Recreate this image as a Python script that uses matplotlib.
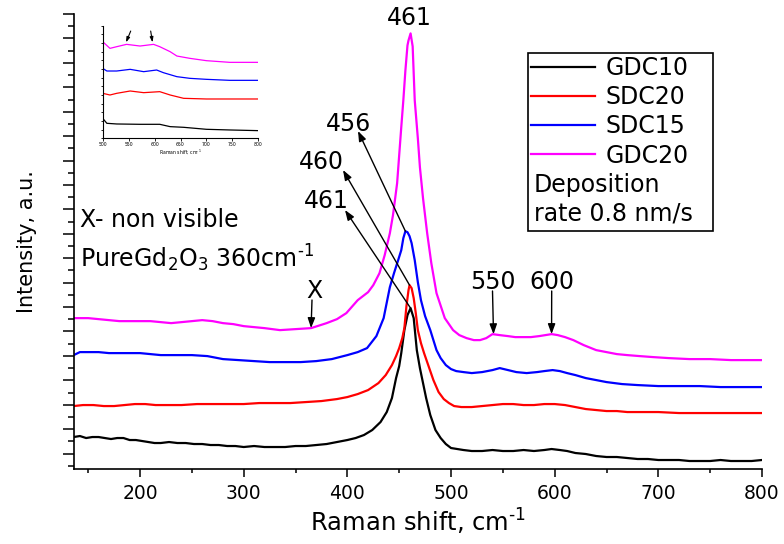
import matplotlib
matplotlib.use("Agg")
import matplotlib.pyplot as plt
from matplotlib.ticker import MultipleLocator
from matplotlib.patches import Rectangle

plt.rcParams["font.family"] = ["DejaVu Sans"]
plt.rcParams["mathtext.fontset"] = "dejavusans"
plt.rcParams["mathtext.default"] = "regular"

# ---- Raman spectra (arbitrary intensity units, curves vertically offset) ----
wn_gdc10 = [136, 142, 148, 154, 160, 166, 172, 178, 184, 190,
            196, 202, 208, 214, 220, 228, 236, 244, 252, 260,
            268, 276, 284, 292, 300, 310, 320, 330, 340, 350,
            360, 370, 380, 390, 400, 408, 416, 424, 432, 438,
            443, 447, 450, 452, 455, 458, 461, 464, 467, 470,
            473, 476, 480, 485, 490, 495, 500, 506, 512, 520,
            530, 540, 550, 560, 570, 580, 590, 597, 605, 612,
            620, 630, 640, 650, 660, 670, 680, 690, 700, 710,
            720, 730, 740, 750, 760, 770, 780, 790, 800]
i_gdc10 = [41, 42, 40, 41, 41, 40, 39, 40, 40, 38,
           38, 37, 36, 35, 35, 36, 35, 35, 34, 34,
           33, 33, 32, 32, 31, 32, 31, 31, 31, 32,
           32, 33, 34, 36, 38, 40, 43, 48, 56, 66,
           80, 100, 112, 125, 148, 163, 170, 160, 128, 110,
           95, 80, 63, 48, 40, 34, 30, 29, 28, 27,
           27, 28, 27, 27, 28, 27, 28, 29, 28, 27,
           25, 24, 22, 21, 21, 20, 19, 19, 18, 18,
           18, 17, 17, 17, 18, 17, 17, 17, 18]

wn_sdc20 = [136, 145, 155, 165, 175, 185, 195, 205, 215, 225,
            240, 255, 270, 285, 300, 315, 330, 345, 360, 375,
            390, 400, 410, 420, 430, 437, 443, 447, 450, 453,
            455, 457, 459, 460, 462, 464, 466, 468, 471, 474,
            478, 483, 488, 493, 498, 503, 510, 520, 530, 540,
            550, 560, 570, 580, 590, 600, 610, 620, 630, 640,
            650, 660, 670, 680, 690, 700, 720, 740, 760, 780,
            800]
i_sdc20 = [72, 73, 73, 72, 72, 73, 74, 74, 73, 73,
           73, 74, 74, 74, 74, 75, 75, 75, 76, 77,
           79, 81, 84, 88, 95, 103, 113, 122, 130, 140,
           150, 172, 188, 193, 190, 180, 165, 148, 135, 125,
           113, 98, 86, 79, 75, 72, 71, 71, 72, 73,
           74, 74, 73, 73, 74, 74, 73, 71, 69, 68,
           67, 67, 66, 66, 66, 66, 65, 65, 65, 65,
           65]

wn_sdc15 = [136, 142, 150, 160, 170, 180, 190, 200, 210, 220,
            235, 250, 265, 280, 295, 310, 325, 340, 355, 370,
            385, 400, 410, 419, 428, 435, 441, 445, 449, 452,
            454, 456, 458, 460, 462, 465, 468, 471, 475, 480,
            486, 490, 495, 500, 505, 512, 520, 530, 540, 547,
            555, 563, 573, 583, 590, 598, 605, 612, 620, 630,
            640, 650, 665, 680, 700, 720, 740, 760, 780, 800]
i_sdc15 = [123, 126, 126, 126, 125, 125, 125, 125, 124, 123,
           123, 123, 122, 119, 118, 117, 116, 116, 116, 117,
           119, 123, 126, 130, 142, 160, 191, 205, 218, 228,
           240, 247, 246, 242, 235, 218, 196, 178, 162, 148,
           128, 120, 113, 109, 107, 106, 105, 106, 108, 110,
           108, 106, 105, 106, 107, 108, 107, 105, 103, 100,
           98, 96, 94, 93, 92, 92, 92, 91, 91, 91]

wn_gdc20 = [136, 142, 150, 160, 170, 180, 190, 200, 210, 220,
            230, 240, 250, 260, 270, 280, 290, 300, 310, 320,
            335, 350, 365, 380, 390, 399, 410, 420, 425, 431,
            436, 441, 444, 448, 450, 452, 454, 456, 458, 459,
            461, 463, 465, 468, 470, 473, 477, 481, 486, 494,
            502, 508, 515, 522, 528, 534, 540, 547, 555, 562,
            569, 577, 585, 591, 597, 603, 610, 618, 628, 640,
            650, 660, 670, 682, 695, 710, 730, 750, 770, 800]
i_gdc20 = [160, 160, 160, 159, 158, 157, 157, 157, 157, 156,
           155, 156, 157, 158, 157, 155, 154, 152, 151, 150,
           148, 149, 150, 155, 159, 165, 178, 186, 193, 205,
           223, 245, 263, 295, 323, 351, 378, 408, 433, 438,
           445, 432, 378, 340, 311, 280, 245, 215, 185, 160,
           148, 143, 140, 138, 138, 140, 144, 143, 142, 141,
           141, 141, 142, 143, 144, 143, 141, 138, 133, 128,
           126, 124, 123, 122, 121, 120, 119, 119, 118, 118]

labels = ["GDC10", "SDC20", "SDC15", "GDC20"]
colors = ["#000000", "#ff0000", "#0000ff", "#ff00ff"]

# ---- inset: 500-800 cm-1 region ----
wn_in_gdc20 = [500, 514, 527, 546, 572, 598, 610, 630, 643, 668, 700, 745, 800]
i_in_gdc20 = [290, 270, 275, 282, 277, 282, 275, 260, 247, 240, 233, 228, 228]
wn_in_sdc15 = [500, 508, 527, 553, 579, 604, 617, 643, 668, 700, 745, 800]
i_in_sdc15 = [210, 202, 202, 207, 200, 205, 197, 185, 180, 177, 174, 174]
wn_in_sdc20 = [500, 514, 527, 553, 579, 610, 630, 656, 700, 745, 800]
i_in_sdc20 = [135, 130, 135, 142, 137, 140, 130, 120, 118, 118, 118]
wn_in_gdc10 = [500, 508, 527, 572, 610, 630, 656, 700, 745, 800]
i_in_gdc10 = [60, 45, 43, 42, 42, 35, 33, 27, 25, 23]

W, H = 784, 544
INV_CM = "cm$^{\u2010 1}$"


def fx(px):
    return px / W


def fy(py):
    return 1 - py / H


fig = plt.figure(figsize=(W / 100, H / 100), dpi=100)
ax = fig.add_axes([fx(74), fy(469), fx(762) - fx(74), fy(14) - fy(469)])

series = [(wn_gdc10, i_gdc10), (wn_sdc20, i_sdc20), (wn_sdc15, i_sdc15), (wn_gdc20, i_gdc20)]
handles = []
for (x, y), lab, c in zip(series, labels, colors):
    h, = ax.plot(x, y, color=c, lw=1.6, label=lab, solid_joinstyle="round")
    handles.append(h)

ax.set_xlim(136.3, 800)
ax.set_ylim(9, 464.4)
ax.xaxis.set_major_locator(MultipleLocator(100))
ax.xaxis.set_minor_locator(MultipleLocator(50))
ax.yaxis.set_major_locator(MultipleLocator(24.44))
ax.yaxis.set_minor_locator(MultipleLocator(12.22))
ax.tick_params(axis="x", which="major", direction="out", length=5.5, width=1.1,
               labelsize=13.5, pad=5)
ax.tick_params(axis="x", which="minor", direction="out", length=3, width=1.1)
ax.tick_params(axis="y", which="major", direction="out", length=8, width=1.1, labelleft=False)
ax.tick_params(axis="y", which="minor", direction="out", length=4.5, width=1.1)
for s in ("top", "right"):
    ax.spines[s].set_visible(False)
for s in ("left", "bottom"):
    ax.spines[s].set_linewidth(1.2)

fig.text(fx(418), fy(522), "Raman shift, " + INV_CM, ha="center", va="center", fontsize=17.5)
fig.text(fx(27), fy(242), "Intensity, a.u.", ha="center", va="center", rotation=90, fontsize=15)

# ---- legend with box and deposition note ----
ax.legend(handles=handles, loc="upper left", bbox_to_anchor=(fx(531), fy(56)),
          bbox_transform=fig.transFigure, frameon=False, fontsize=17,
          handlelength=2.7, handletextpad=0.45, labelspacing=0.22,
          borderpad=0, borderaxespad=0)
fig.patches.append(Rectangle((fx(528.3), fy(230.7)), fx(712.7) - fx(528.3), fy(52.7) - fy(230.7),
                             transform=fig.transFigure, fill=False, ec="black", lw=1.2))
fig.text(fx(534), fy(185), "Deposition", ha="left", va="center", fontsize=17)
fig.text(fx(534), fy(214), "rate 0.8 nm/s", ha="left", va="center", fontsize=17)

# ---- peak annotations ----
arrow = dict(arrowstyle="-|>,head_length=0.6,head_width=0.22", color="black", lw=1.0,
             shrinkA=0, shrinkB=0)

fig.text(fx(409), fy(18), "461", ha="center", va="center", fontsize=17)

peak_notes = [("456", wn_sdc15, i_sdc15, (348.5, 124), (358, 131)),
              ("460", wn_sdc20, i_sdc20, (321.5, 162), (343, 170)),
              ("461", wn_gdc10, i_gdc10, (326.5, 201), (345, 210))]
for txt, xs, ys, tpos, head in peak_notes:
    k = ys.index(max(ys))
    fig.text(fx(tpos[0]), fy(tpos[1]), txt, ha="center", va="center", fontsize=17)
    ax.annotate("", xy=(fx(head[0]), fy(head[1])), xycoords="figure fraction",
                xytext=(xs[k], ys[k]), textcoords="data", arrowprops=arrow)

fig.text(fx(80), fy(220), "X- non visible", ha="left", va="center", fontsize=17)
fig.text(fx(80), fy(258), "PureGd$_2$O$_3$ 360" + INV_CM, ha="left", va="center", fontsize=17)

# marker arrows onto the GDC20 trace
for txt, wn_mark, tpos in [("X", 365, (314, 291)), ("550", 541, (492.5, 282)),
                           ("600", 597, (551.7, 282))]:
    lvl = None
    for j in range(len(wn_gdc20) - 1):
        if wn_gdc20[j] <= wn_mark <= wn_gdc20[j + 1]:
            t = (wn_mark - wn_gdc20[j]) / (wn_gdc20[j + 1] - wn_gdc20[j])
            lvl = i_gdc20[j] + t * (i_gdc20[j + 1] - i_gdc20[j])
            break
    fig.text(fx(tpos[0]), fy(tpos[1]), txt, ha="center", va="center", fontsize=17)
    ax.annotate("", xy=(wn_mark, lvl), xycoords="data",
                xytext=(fx(tpos[0] - 2 if txt == "X" else tpos[0]), fy(tpos[1] + 9)),
                textcoords="figure fraction", arrowprops=arrow)

# ---- inset ----
axin = fig.add_axes([fx(102.7), fy(138.3), fx(258.3) - fx(102.7), fy(25.7) - fy(138.3)])
inset_series = [(wn_in_gdc10, i_in_gdc10), (wn_in_sdc20, i_in_sdc20),
                (wn_in_sdc15, i_in_sdc15), (wn_in_gdc20, i_in_gdc20)]
for (x, y), c in zip(inset_series, colors):
    axin.plot(x, y, color=c, lw=0.9)
axin.set_xlim(500, 800)
axin.set_ylim(0, 338)
axin.xaxis.set_major_locator(MultipleLocator(50))
axin.yaxis.set_major_locator(MultipleLocator(52))
axin.yaxis.set_minor_locator(MultipleLocator(26))
axin.tick_params(axis="x", which="major", length=2, width=0.6, labelsize=3.3, pad=1)
axin.tick_params(axis="y", which="both", length=1.8, width=0.6, labelleft=False)
for s in ("top", "right"):
    axin.spines[s].set_visible(False)
for s in ("left", "bottom"):
    axin.spines[s].set_linewidth(0.8)
axin.set_xlabel("Raman shift, " + INV_CM, fontsize=3.3, labelpad=0)
small_arrow = dict(arrowstyle="-|>,head_length=0.3,head_width=0.1", color="black", lw=0.8,
                   shrinkA=0, shrinkB=0)
axin.annotate("", xy=(545, 288), xytext=(554, 322), arrowprops=small_arrow)
axin.annotate("", xy=(596, 288), xytext=(592.5, 322), arrowprops=small_arrow)

fig.savefig("out.png", dpi=100)
